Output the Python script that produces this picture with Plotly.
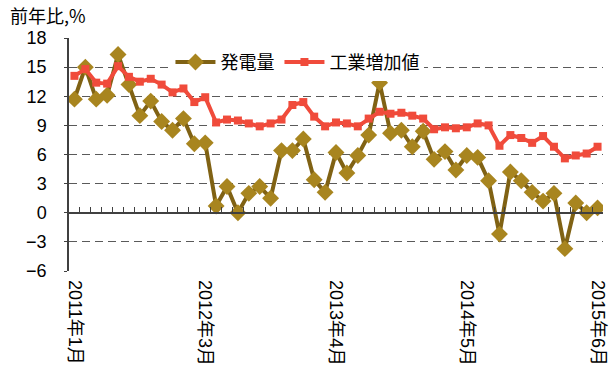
import plotly.graph_objects as go

categories = (
    ["2011年1月"] + [f"2011年{m}月" for m in range(3, 13)]
    + ["2012年2月"] + [f"2012年{m}月" for m in range(3, 13)]
    + ["2013年2月"] + [f"2013年{m}月" for m in range(3, 13)]
    + ["2014年2月"] + [f"2014年{m}月" for m in range(3, 13)]
    + ["2015年2月"] + [f"2015年{m}月" for m in range(3, 7)]
)

power = [11.7, 15.0, 11.7, 12.1, 16.3, 13.2, 10.0, 11.5, 9.4, 8.5, 9.7, 7.1,
         7.2, 0.7, 2.7, 0.0, 2.0, 2.7, 1.5, 6.4, 6.4, 7.6, 3.4, 2.1,
         6.2, 4.1, 5.9, 8.0, 13.4, 8.2, 8.5, 6.8, 8.4, 5.5, 6.3, 4.4,
         5.9, 5.7, 3.3, -2.2, 4.2, 3.3, 2.1, 1.2, 2.0, -3.7, 1.0, 0.0, 0.5]

industry = [14.1, 14.8, 13.4, 13.3, 15.1, 14.0, 13.5, 13.8, 13.2, 12.4, 12.8, 11.4,
            11.9, 9.3, 9.6, 9.5, 9.2, 8.9, 9.2, 9.6, 11.1, 11.4, 9.9, 8.9,
            9.3, 9.2, 8.9, 9.7, 10.4, 10.2, 10.3, 10.0, 9.7, 8.6, 8.8, 8.7,
            8.8, 9.2, 9.0, 6.9, 8.0, 7.7, 7.2, 7.9, 6.8, 5.6, 5.9, 6.1, 6.8]

label_idx = [0, 12, 24, 36, 48]
tick_labels = [categories[i] for i in label_idx]

y_ticks = [-6, -3, 0, 3, 6, 9, 12, 15, 18]

GOLD_LINE = "#806214"
GOLD_MARK = "#A8851F"
RED = "#F04B3B"
AXIS = "#404040"
GRID = "#5a5a5a"

fig = go.Figure()
fig.add_trace(go.Scatter(
    x=categories, y=power, name="発電量", mode="lines+markers",
    line=dict(color=GOLD_LINE, width=4),
    marker=dict(symbol="diamond", size=13, color=GOLD_MARK),
    xaxis="x", yaxis="y",
))
fig.add_trace(go.Scatter(
    x=categories, y=industry, name="工業増加値", mode="lines+markers",
    line=dict(color=RED, width=4),
    marker=dict(symbol="square", size=8, color=RED),
    xaxis="x2", yaxis="y",
))

rng = [-0.5, len(categories) - 0.5]
fig.update_layout(
    width=609, height=374,
    margin=dict(l=69, r=1, t=38, b=103),
    paper_bgcolor="white", plot_bgcolor="white",
    font=dict(family="Liberation Sans, Arial, sans-serif", color="#000000", size=17),
    xaxis=dict(
        type="category", categoryorder="array", categoryarray=categories,
        range=rng, anchor="free", position=0.25,
        showline=True, linecolor=AXIS, linewidth=1.5,
        tickmode="linear", tick0=0, dtick=1, tickson="boundaries",
        ticks="inside", ticklen=5, tickwidth=1, tickcolor=AXIS,
        showticklabels=False, showgrid=False, zeroline=False,
    ),
    xaxis2=dict(
        type="category", categoryorder="array", categoryarray=categories,
        range=rng, overlaying="x", anchor="y", side="bottom",
        tickmode="array", tickvals=tick_labels, ticktext=tick_labels,
        tickangle=90, ticks="", showline=False, showgrid=False, zeroline=False,
        ticklabelstandoff=8,
        tickfont=dict(size=18, family="Liberation Sans, Noto Sans CJK JP, sans-serif"),
    ),
    yaxis=dict(
        range=[-6, 18], tickmode="array", tickvals=y_ticks,
        ticktext=[("−" + str(-v)) if v < 0 else str(v) for v in y_ticks],
        showline=True, linecolor=AXIS, linewidth=1.5,
        ticks="outside", ticklen=3, tickcolor=AXIS,
        showgrid=True, gridcolor=GRID, gridwidth=1.2, griddash="8px,5px",
        zeroline=False, tickfont=dict(size=18), ticklabelstandoff=14,
    ),
    legend=dict(
        orientation="h", x=0.19, y=0.975, xanchor="left", yanchor="top",
        bgcolor="white", font=dict(size=18, family="Noto Sans CJK JP"),
        itemwidth=40, tracegroupgap=0,
    ),
    showlegend=True,
    annotations=[dict(
        text="前年比,%", xref="paper", yref="paper",
        x=-0.115, y=1.10, xanchor="left", yanchor="middle",
        showarrow=False, font=dict(size=18, family="Noto Sans CJK JP"),
    )],
)

fig.write_html("out.html")
